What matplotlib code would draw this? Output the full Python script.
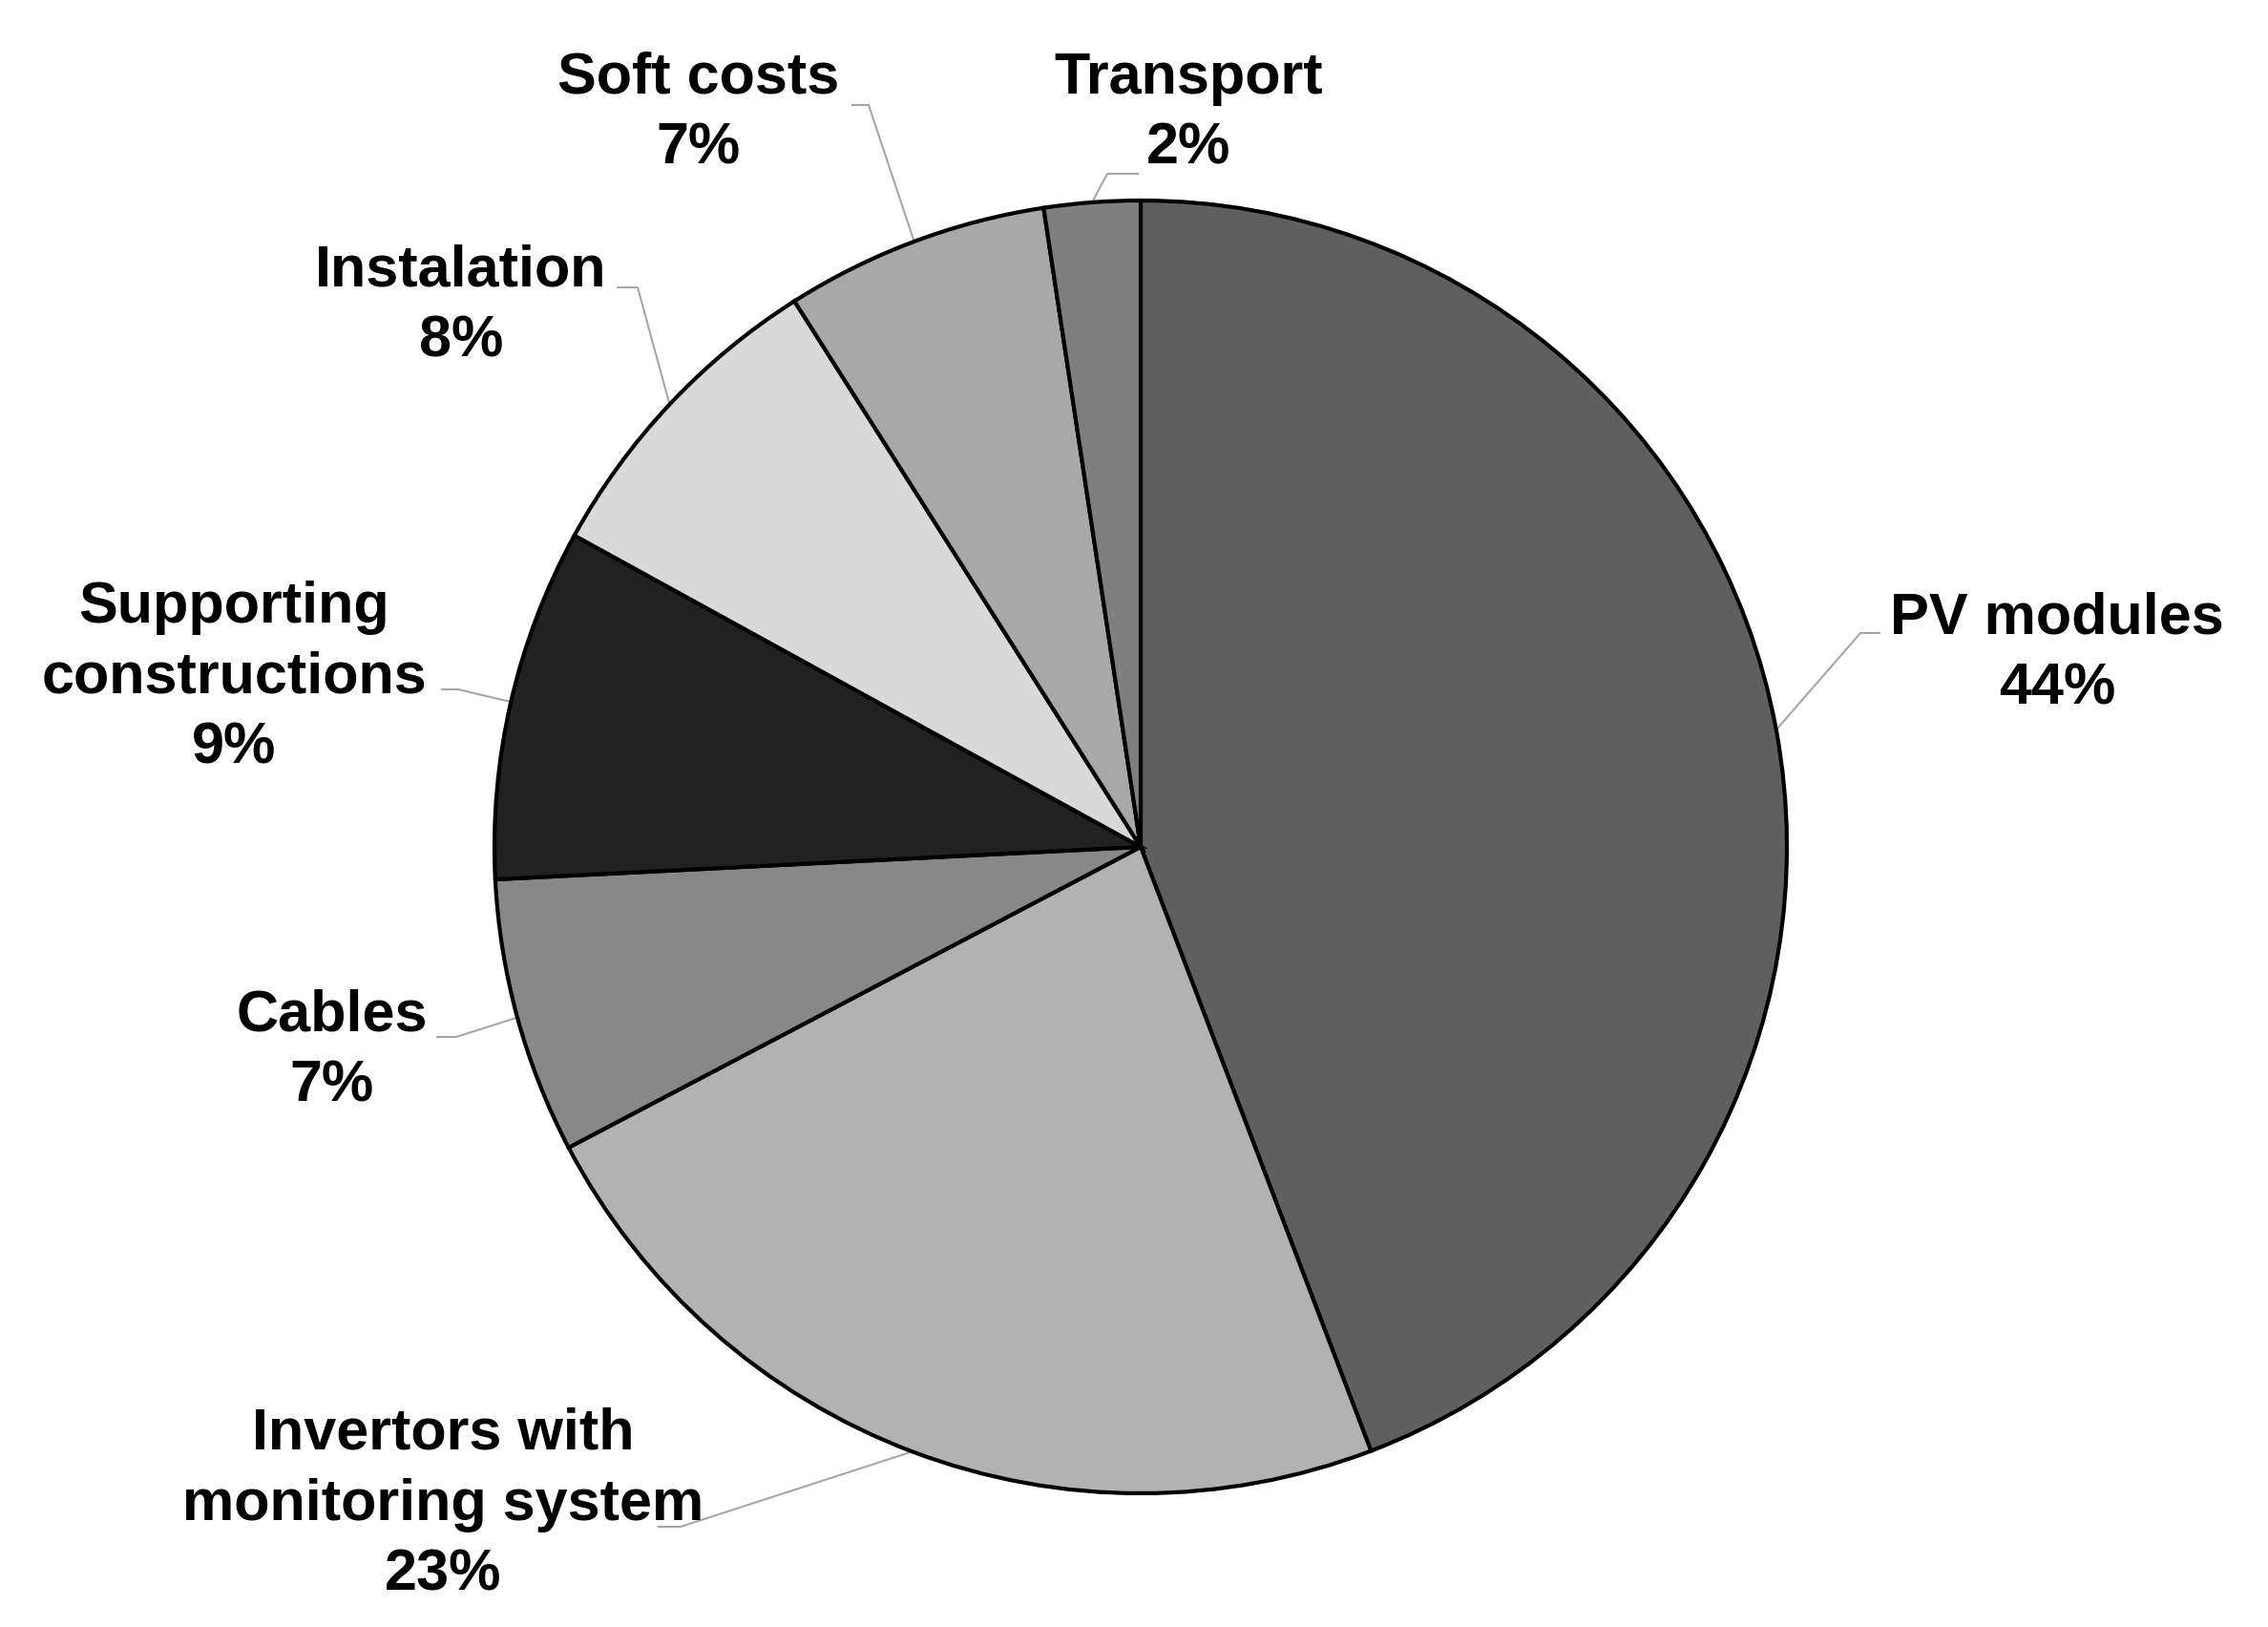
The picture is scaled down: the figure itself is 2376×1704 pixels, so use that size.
import numpy as np
import matplotlib
matplotlib.use("Agg")
import matplotlib.pyplot as plt

# dados (sentido horario a partir das 12h)
categorias = ["PV modules", "Invertors with\nmonitoring system", "Cables",
              "Supporting\nconstructions", "Instalation", "Soft costs", "Transport"]
valores = [44.2, 23.1, 6.9, 8.8, 8.0, 6.6, 2.4]
cores = ["#5f5f5f", "#b2b2b2", "#888888", "#212121", "#d9d9d9", "#a8a8a8", "#7f7f7f"]

# layout em pixels da figura (centro do texto x, baseline da 1a linha)
W, H = 2376, 1704
cx, cy, R = 1195, 887, 677
pos_texto = [(2155, 663), (464, 1518), (348, 1080), (245, 652),
             (483, 300), (732, 98), (1245, 98)]
# cotovelo e fim da linha guia
guias = [((1949, 663), (1969, 663)), ((713, 1599), (690, 1599)),
         ((478, 1086), (458, 1086)), ((480, 722), (463, 722)),
         ((668, 301), (647, 301)), ((910, 110), (893, 110)),
         ((1160, 182), (1192, 182))]
passo = 74

def px2d(px, py):
    return (px - cx) / R, (cy - py) / R

fig = plt.figure(figsize=(W / 100, H / 100), dpi=100)
ax = fig.add_axes([(cx - R) / W, (H - cy - R) / H, 2 * R / W, 2 * R / H])
wedges, _ = ax.pie(valores, colors=cores, startangle=90, counterclock=False,
                   radius=1, wedgeprops=dict(edgecolor="black", linewidth=3))
ax.set_xlim(-1, 1)
ax.set_ylim(-1, 1)
ax.set_aspect("equal")
ax.axis("off")

fonte = dict(family="Liberation Sans", weight="bold", size=44, color="black")

for w, nome, v, (tx, ty), (cot, fim) in zip(wedges, categorias, valores, pos_texto, guias):
    linhas = nome.split("\n") + ["%d%%" % round(v)]
    for k, ln in enumerate(linhas):
        x, y = px2d(tx, ty + k * passo)
        ax.text(x, y, ln, ha="center", va="baseline", **fonte)
    ang = np.deg2rad((w.theta1 + w.theta2) / 2)
    ax0, ay0 = np.cos(ang), np.sin(ang)
    ex, ey = px2d(*cot)
    fx, fy = px2d(*fim)
    ax.plot([ax0, ex, fx], [ay0, ey, fy], color="#a6a6a6", lw=1.5,
            clip_on=False, zorder=0)

fig.savefig("out.png", dpi=100, facecolor="white")
